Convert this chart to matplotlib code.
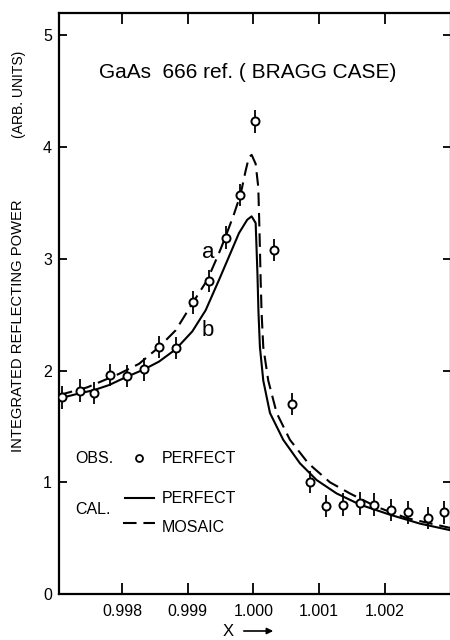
import matplotlib
matplotlib.use("Agg")
import matplotlib.pyplot as plt
from matplotlib.lines import Line2D
from matplotlib.patches import FancyArrowPatch

plt.rcParams['font.family'] = ['Liberation Sans', 'DejaVu Sans']

# ---- observed data (perfect crystal) ----
obs_x = [0.99708, 0.99736, 0.99757, 0.99781, 0.99807, 0.99833, 0.99857, 0.99882,
         0.99908, 0.99932, 0.99958, 0.99980, 1.00003, 1.00031, 1.00059, 1.00086,
         1.00111, 1.00136, 1.00162, 1.00184, 1.00209, 1.00235, 1.00266, 1.00291]
obs_y = [1.76, 1.82, 1.80, 1.96, 1.95, 2.01, 2.21, 2.20,
         2.61, 2.80, 3.19, 3.57, 4.23, 3.08, 1.70, 1.00,
         0.79, 0.80, 0.81, 0.80, 0.75, 0.73, 0.68, 0.73]
obs_err = [0.10] * len(obs_x)

# ---- calculated: perfect (solid, b) ----
perf_x = [0.997041, 0.997346, 0.997574, 0.997802, 0.998056, 0.998335, 0.998563,
          0.998817, 0.999070, 0.999274, 0.999476, 0.999629, 0.999781, 0.999907,
          0.999974, 1.000035, 1.000062, 1.000078, 1.000100, 1.000151, 1.000253,
          1.000455, 1.000709, 1.000963, 1.001268, 1.001623, 1.002079, 1.002536,
          1.003008]
perf_y = [1.75, 1.795, 1.825, 1.87, 1.94, 2.01, 2.08,
          2.19, 2.35, 2.54, 2.81, 3.02, 3.23, 3.35,
          3.38, 3.32, 2.87, 2.52, 2.21, 1.91, 1.62,
          1.38, 1.17, 1.02, 0.90, 0.80, 0.71, 0.63,
          0.57]

# ---- calculated: mosaic (dashed, a) ----
mos_x = [0.997041, 0.997472, 0.997954, 0.998259, 0.998563, 0.998817, 0.999070,
         0.999298, 0.999476, 0.999578, 0.999705, 0.999807, 0.999883, 0.999933,
         0.999974, 1.000035, 1.000075, 1.000093, 1.000111, 1.000126, 1.000151,
         1.000227, 1.000355, 1.000557, 1.000836, 1.001166, 1.001470, 1.001877,
         1.002333, 1.003008]
mos_y = [1.78, 1.85, 1.97, 2.06, 2.21, 2.36, 2.60,
         2.81, 3.05, 3.20, 3.40, 3.58, 3.79, 3.91,
         3.93, 3.85, 3.64, 3.26, 2.81, 2.51, 2.21,
         1.91, 1.62, 1.38, 1.17, 1.00, 0.90, 0.78,
         0.68, 0.59]

x_ticks = [0.998, 0.999, 1.000, 1.001, 1.002]
x_tick_labels = ["0.998", "0.999", "1.000", "1.001", "1.002"]
y_ticks = [0, 1, 2, 3, 4, 5]
y_tick_labels = ["0", "1", "2", "3", "4", "5"]

W, H = 450, 640
fig = plt.figure(figsize=(4.5, 6.4), dpi=100)
ax = fig.add_axes([59 / W, 46 / H, 392 / W, 581 / H])

ax.plot(perf_x, perf_y, color='black', lw=1.5, solid_joinstyle='round')
ax.plot(mos_x, mos_y, color='black', lw=1.5, dashes=(6.5, 3.3))
ax.errorbar(obs_x, obs_y, yerr=obs_err, fmt='o', color='black', ecolor='black',
            elinewidth=1.3, capsize=0, markersize=5.8, markerfacecolor='white',
            markeredgewidth=1.4, zorder=5)

ax.set_xlim(0.99704, 1.00301)
ax.set_ylim(0, 5.2)
ax.set_xticks(x_ticks)
ax.set_xticklabels(x_tick_labels, fontsize=11.5)
ax.set_yticks(y_ticks)
ax.set_yticklabels(y_tick_labels, fontsize=11.5)
ax.tick_params(axis='x', direction='in', length=8, width=1.3, top=True, pad=7)
ax.tick_params(axis='y', direction='in', length=6, width=1.3, right=True, pad=5)
for s in ax.spines.values():
    s.set_linewidth(1.6)

ax.text(0.482, 0.898, "GaAs  666 ref. ( BRAGG CASE)", transform=ax.transAxes,
        ha='center', va='center', fontsize=15)
ax.text(0.380, 0.587, "a", transform=ax.transAxes, ha='center', va='center', fontsize=16)
ax.text(0.380, 0.454, "b", transform=ax.transAxes, ha='center', va='center', fontsize=16)

# legend-like annotation
ax.text(0.041, 0.234, "OBS.", transform=ax.transAxes, ha='left', va='center', fontsize=11.5)
ax.plot([0.204], [0.234], 'o', transform=ax.transAxes, markersize=5,
        markerfacecolor='white', markeredgecolor='black', markeredgewidth=1.3)
ax.text(0.263, 0.234, "PERFECT", transform=ax.transAxes, ha='left', va='center', fontsize=11.5)
ax.add_line(Line2D([0.168, 0.242], [0.165, 0.165], transform=ax.transAxes,
                   color='black', lw=1.5))
ax.text(0.263, 0.164, "PERFECT", transform=ax.transAxes, ha='left', va='center', fontsize=11.5)
ax.text(0.041, 0.145, "CAL.", transform=ax.transAxes, ha='left', va='center', fontsize=11.5)
ax.add_line(Line2D([0.163, 0.245], [0.122, 0.122], transform=ax.transAxes,
                   color='black', lw=1.5, dashes=(6.5, 3.3)))
ax.text(0.263, 0.115, "MOSAIC", transform=ax.transAxes, ha='left', va='center', fontsize=11.5)

# y label (two sizes)
fig.text(18 / W, 1 - 452 / H, "INTEGRATED REFLECTING POWER", rotation=90,
         ha='center', va='bottom', fontsize=10.6)
fig.text(19 / W, 1 - 138 / H, "(ARB. UNITS)", rotation=90,
         ha='center', va='bottom', fontsize=10)

# x label with arrow
fig.text(228 / W, 1 - 632 / H, "X", ha='center', va='center', fontsize=12)
fig.add_artist(FancyArrowPatch(
    (241 / W, 1 - 631 / H), (276 / W, 1 - 631 / H), transform=fig.transFigure,
    arrowstyle='-|>', mutation_scale=9, color='black', lw=1.2))

fig.savefig("out.png", dpi=100)
